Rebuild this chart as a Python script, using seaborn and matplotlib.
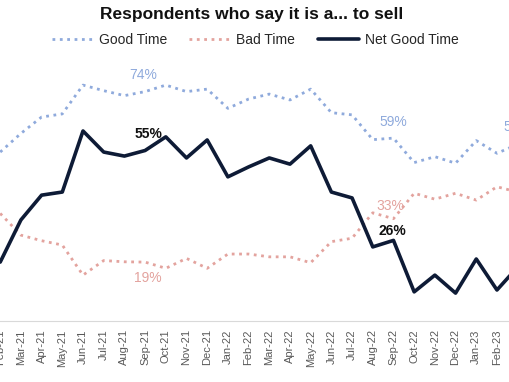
import numpy as np
import pandas as pd
import matplotlib
matplotlib.use("Agg")
import matplotlib.pyplot as plt
import seaborn as sns

# monthly survey, Feb-21 .. Mar-23 (last point runs past the crop)
months = ["Feb-21", "Mar-21", "Apr-21", "May-21", "Jun-21", "Jul-21", "Aug-21",
          "Sep-21", "Oct-21", "Nov-21", "Dec-21", "Jan-22", "Feb-22", "Mar-22",
          "Apr-22", "May-22", "Jun-22", "Jul-22", "Aug-22", "Sep-22", "Oct-22",
          "Nov-22", "Dec-22", "Jan-23", "Feb-23", "Mar-23"]
good_time = [54.5, 60.5, 65.8, 66.8, 76.1, 74.3, 72.7, 74, 76.1, 74.0, 74.8, 68.6, 71.6,
             73.2, 71.3, 74.8, 67.2, 66.5, 58.5, 59, 51.1, 53.0, 50.9, 58.2, 54.1, 57]
bad_time = [34.7, 27.7, 25.9, 24.5, 14.8, 19.5, 19.1, 19, 17.0, 20.2, 17.0, 21.6, 21.6,
            20.7, 20.7, 18.8, 25.6, 26.7, 34.9, 33, 41.2, 39.3, 41.2, 39.0, 43.3, 41.6]
net_good = [19.0, 32.6, 40.6, 41.6, 61.3, 54.5, 53.2, 55, 59.4, 52.6, 58.4, 46.5, 49.7,
            52.6, 50.6, 56.5, 41.6, 39.7, 23.9, 26, 9.4, 14.8, 9.0, 20.0, 10.0, 17.4]

# data labels per series: month -> text
labels_good = {"Sep-21": "74%", "Sep-22": "59%", "Mar-23": "57%"}
labels_bad = {"Sep-21": "19%", "Sep-22": "33%"}
labels_net = {"Sep-21": "55%", "Sep-22": "26%"}

c_good = "#8FAADC"
c_bad = "#E3A39E"
c_net = "#0E1B36"

df = pd.DataFrame({"i": np.arange(len(months)), "month": months,
                   "good": good_time, "bad": bad_time, "net": net_good})

sns.set_theme(style="white")
plt.rcParams["font.family"] = ["Liberation Sans", "DejaVu Sans"]

fig = plt.figure(figsize=(5.1, 3.82), dpi=100)
ax = fig.add_axes([0, 61 / 382, 1, 261 / 382])

sns.lineplot(data=df, x="i", y="good", ax=ax, color=c_good, lw=2.0,
             linestyle=":", label="Good Time")
sns.lineplot(data=df, x="i", y="bad", ax=ax, color=c_bad, lw=2.0,
             linestyle=":", label="Bad Time")
sns.lineplot(data=df, x="i", y="net", ax=ax, color=c_net, lw=2.6,
             label="Net Good Time")

ax.set_xticks(df["i"])
ax.set_xticklabels(months, rotation=90, fontsize=8, color="#595959")
# set limits after ticks, otherwise set_xticks widens the view
ax.set_xlim(-0.01, 24.63)
ax.set_ylim(0, 261 / 3.1)
ax.tick_params(axis="x", length=0, pad=6)
ax.set_yticks([])
ax.set_xlabel("")
ax.set_ylabel("")
for s in ["left", "right", "top"]:
    ax.spines[s].set_visible(False)
ax.spines["bottom"].set_color("#D9D9D9")
ax.spines["bottom"].set_linewidth(0.8)


def put_labels(col, lab, color, weight, dx, dy):
    for m, txt in lab.items():
        row = df[df["month"] == m].iloc[0]
        ax.annotate(txt, (row["i"], row[col]), xytext=(dx[m], dy[m]),
                    textcoords="offset pixels", ha="center", va="center",
                    fontsize=10, color=color, fontweight=weight,
                    annotation_clip=False)


put_labels("good", labels_good, c_good, "normal",
           {"Sep-21": -2, "Sep-22": 0, "Mar-23": 0},
           {"Sep-21": 17, "Sep-22": 16, "Mar-23": 17})
put_labels("bad", labels_bad, c_bad, "normal",
           {"Sep-21": 3, "Sep-22": -3}, {"Sep-21": -16, "Sep-22": 13})
put_labels("net", labels_net, "#111111", "bold",
           {"Sep-21": 3, "Sep-22": -1}, {"Sep-21": 16, "Sep-22": 9})

ax.get_legend().remove()
h, l = ax.get_legend_handles_labels()
fig.legend(h, l, loc="center", bbox_to_anchor=(0.5, 1 - 40 / 382), ncol=3,
           frameon=False, fontsize=10, handlelength=3, handletextpad=0.4,
           columnspacing=1.6, labelcolor="#262626")

fig.text(252 / 510, 1 - 15 / 382, "Respondents who say it is a... to sell",
         ha="center", va="center", fontsize=12.5, fontweight="bold", color="#111111")

fig.savefig("out.png", dpi=100)
